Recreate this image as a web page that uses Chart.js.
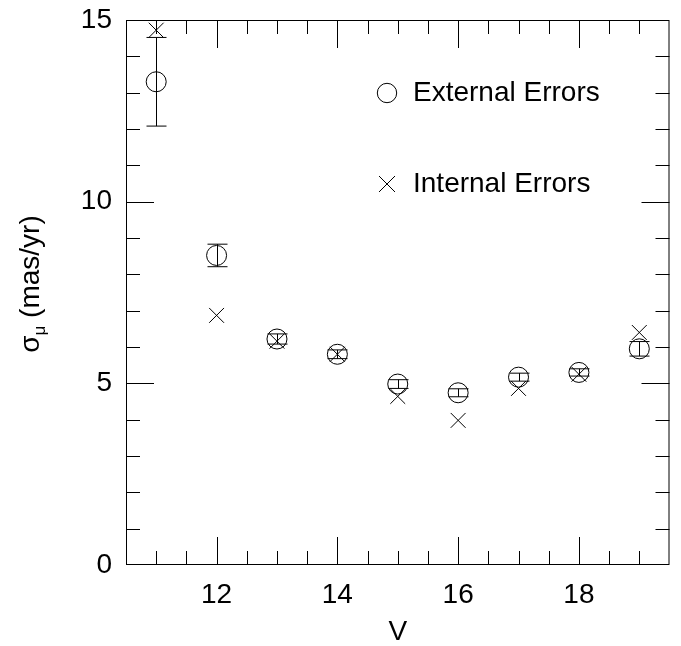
<!DOCTYPE html>
<html>
<head>
<meta charset="utf-8">
<script src="https://cdn.jsdelivr.net/npm/chart.js@4.4.1/dist/chart.umd.min.js"></script>
<style>
  html, body { margin: 0; padding: 0; background: #fff; }
  #wrap { width: 681px; height: 646px; }
</style>
</head>
<body>
<div id="wrap"><canvas id="errChart"></canvas></div>
<script>
// data
const magnitudes = [11, 12, 13, 14, 15, 16, 17, 18, 19];
const externalErr = [13.3, 8.52, 6.22, 5.8, 4.98, 4.74, 5.17, 5.3, 5.95];
const externalErrBar = [1.22, 0.31, 0.14, 0.12, 0.12, 0.11, 0.11, 0.1, 0.2];
const internalErr = [14.72, 6.87, 6.16, 5.8, 4.64, 3.98, 4.86, 5.25, 6.4];
const xTickLabels = [12, 14, 16, 18];
const yTickLabels = [0, 5, 10, 15];
const legendNames = ["External Errors", "Internal Errors"];

const FONT = "'Liberation Sans', Arial, sans-serif";

const extPoints = magnitudes.map((v, i) => ({ x: v, y: externalErr[i] }));
const intPoints = magnitudes.map((v, i) => ({ x: v, y: internalErr[i] }));

// frame, inward ticks, error bars, legend, y title
const decor = {
  id: "decor",
  beforeDatasetsDraw(chart) {
    const { ctx, scales } = chart;
    const xs = scales.x, ys = scales.y;
    ctx.save();
    ctx.strokeStyle = "#000";
    ctx.lineWidth = 1;
    // error bars
    magnitudes.forEach((v, i) => {
      const px = Math.round(xs.getPixelForValue(v)) + 0.5;
      const top = ys.getPixelForValue(externalErr[i] + externalErrBar[i]);
      const bot = ys.getPixelForValue(externalErr[i] - externalErrBar[i]);
      ctx.beginPath();
      ctx.moveTo(px, top); ctx.lineTo(px, bot);
      ctx.moveTo(px - 10, top); ctx.lineTo(px + 10, top);
      ctx.moveTo(px - 10, bot); ctx.lineTo(px + 10, bot);
      ctx.stroke();
    });
    ctx.restore();
  },
  afterDatasetsDraw(chart) {
    const { ctx, chartArea: a, scales } = chart;
    const xs = scales.x, ys = scales.y;
    ctx.save();
    ctx.strokeStyle = "#000";
    ctx.lineWidth = 1;
    ctx.strokeRect(a.left + 0.5, a.top + 0.5, a.right - a.left - 1, a.bottom - a.top - 1);
    ctx.beginPath();
    for (let v = 11; v <= 19; v += 0.5) {
      const px = Math.round(xs.getPixelForValue(v)) + 0.5;
      const len = xTickLabels.includes(v) ? 28 : 14;
      ctx.moveTo(px, a.bottom); ctx.lineTo(px, a.bottom - len);
      ctx.moveTo(px, a.top); ctx.lineTo(px, a.top + len);
    }
    for (let v = 1; v <= 14; v++) {
      const py = Math.round(ys.getPixelForValue(v)) + 0.5;
      const len = v % 5 === 0 ? 28 : 14;
      ctx.moveTo(a.left, py); ctx.lineTo(a.left + len, py);
      ctx.moveTo(a.right, py); ctx.lineTo(a.right - len, py);
    }
    ctx.stroke();

    // legend
    const lx = a.left + 261, ly1 = a.top + 73, ly2 = a.top + 164;
    ctx.beginPath();
    ctx.arc(lx, ly1, 9.7, 0, Math.PI * 2);
    ctx.stroke();
    ctx.beginPath();
    ctx.moveTo(lx - 8, ly2 - 8); ctx.lineTo(lx + 8, ly2 + 8);
    ctx.moveTo(lx - 8, ly2 + 8); ctx.lineTo(lx + 8, ly2 - 8);
    ctx.stroke();
    ctx.fillStyle = "#000";
    ctx.font = "28px " + FONT;
    ctx.textBaseline = "middle";
    ctx.textAlign = "left";
    ctx.fillText(legendNames[0], lx + 26, ly1);
    ctx.fillText(legendNames[1], lx + 26, ly2);

    // y title: sigma with subscript mu
    ctx.translate(31, 284);
    ctx.rotate(-Math.PI / 2);
    const big = "28px " + FONT, small = "17px " + FONT;
    ctx.font = big;
    const wS = ctx.measureText("\u03c3").width;
    const wRest = ctx.measureText(" (mas/yr)").width;
    ctx.font = small;
    const wMu = ctx.measureText("\u03bc").width;
    const x0 = -(wS + wMu + wRest) / 2;
    ctx.font = big;
    ctx.fillText("\u03c3", x0, 0);
    ctx.font = small;
    ctx.fillText("\u03bc", x0 + wS, 9);
    ctx.font = big;
    ctx.fillText(" (mas/yr)", x0 + wS + wMu, 0);
    ctx.restore();
  }
};

new Chart(document.getElementById("errChart"), {
  type: "scatter",
  data: {
    datasets: [
      {
        label: legendNames[0],
        data: extPoints,
        pointStyle: "circle",
        pointRadius: 10,
        pointHoverRadius: 10,
        borderColor: "#000",
        backgroundColor: "rgba(0,0,0,0)",
        borderWidth: 1,
      },
      {
        label: legendNames[1],
        data: intPoints,
        pointStyle: "crossRot",
        pointRadius: 10.5,
        pointHoverRadius: 10.5,
        borderColor: "#000",
        borderWidth: 1,
      },
    ],
  },
  options: {
    responsive: true,
    maintainAspectRatio: false,
    animation: false,
    layout: { padding: { top: 20, right: 11, left: 0, bottom: 0 } },
    plugins: {
      legend: { display: false },
      tooltip: { enabled: false },
    },
    scales: {
      x: {
        type: "linear",
        min: 10.5,
        max: 19.5,
        afterFit: (s) => { s.height = 81; s.paddingLeft = 0; s.paddingRight = 0; },
        afterBuildTicks: (s) => { s.ticks = xTickLabels.map((v) => ({ value: v })); },
        grid: { display: false, drawTicks: false },
        border: { display: false },
        ticks: { color: "#000", padding: 13, font: { family: FONT, size: 28 } },
        title: {
          display: true,
          text: "V",
          color: "#000",
          padding: 0,
          font: { family: FONT, size: 28, lineHeight: 1 },
        },
      },
      y: {
        type: "linear",
        min: 0,
        max: 15,
        afterFit: (s) => { s.width = 126; s.paddingTop = 0; s.paddingBottom = 0; },
        afterBuildTicks: (s) => { s.ticks = yTickLabels.map((v) => ({ value: v })); },
        grid: { display: false, drawTicks: false },
        border: { display: false },
        ticks: { color: "#000", padding: 14, font: { family: FONT, size: 28 } },
      },
    },
  },
  plugins: [decor],
});
</script>
</body>
</html>
